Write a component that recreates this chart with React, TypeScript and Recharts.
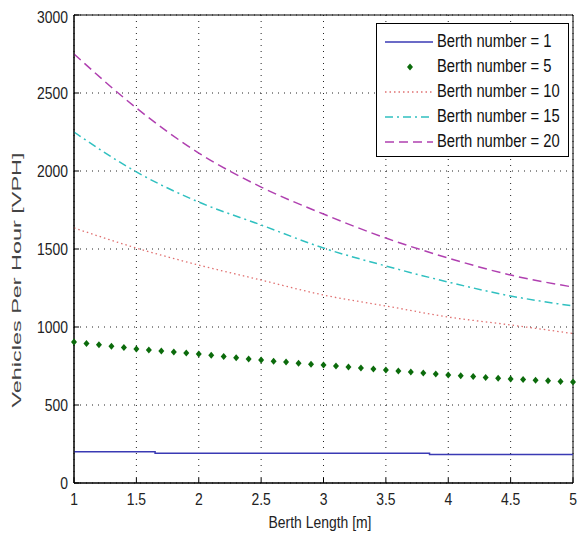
import React from "react";
import {
  ComposedChart,
  Line,
  Scatter,
  XAxis,
  YAxis,
  CartesianGrid,
  ReferenceArea
} from "recharts";

const FONT = "'Liberation Sans', Arial, sans-serif";
const NARROW = 0.82;

const xTicks = [1, 1.5, 2, 2.5, 3, 3.5, 4, 4.5, 5];
const yTicks = [0, 500, 1000, 1500, 2000, 2500, 3000];

// berth lengths for the smooth curves
const berthLength = [1, 1.5, 2, 2.5, 3, 3.5, 4, 4.5, 5];
const berth10 = [1635, 1506, 1397, 1301, 1205, 1135, 1064, 1013, 958];
const berth15 = [2250, 1994, 1801, 1654, 1506, 1391, 1288, 1199, 1135];
const berth20 = [2750, 2404, 2115, 1897, 1724, 1570, 1442, 1333, 1256];

// berth number = 1 is a step line
const stepLength = [1, 1.65, 3.85, 5];
const berth1 = [200, 190, 182, 182];

// berth number = 5 plotted as markers
const fineLength = [
  1, 1.1, 1.2, 1.3, 1.4, 1.5, 1.6, 1.7, 1.8, 1.9, 2, 2.1, 2.2, 2.3, 2.4, 2.5, 2.6, 2.7, 2.8, 2.9, 3,
  3.1, 3.2, 3.3, 3.4, 3.5, 3.6, 3.7, 3.8, 3.9, 4, 4.1, 4.2, 4.3, 4.4, 4.5, 4.6, 4.7, 4.8, 4.9, 5
];
const berth5 = [
  904, 895, 886, 877, 868, 859, 852, 846, 839, 833, 827, 819, 811, 803, 795, 788, 781, 775, 768, 762, 756,
  750, 743, 737, 730, 724, 718, 711, 705, 698, 692, 687, 682, 677, 672, 667, 663, 659, 655, 651, 647
];

const toPoints = (xs: number[], ys: number[]) => xs.map((x, i) => ({ x, y: ys[i] }));

const COLORS = {
  b1: "#3a3ab4",
  b5: "#0b6b0b",
  b10: "#e07070",
  b15: "#30c0c0",
  b20: "#b040b0"
};

function Diamond(props: any) {
  const { cx, cy } = props;
  if (cx == null || cy == null) return null;
  return (
    <polygon
      points={`${cx},${cy - 3.5} ${cx + 3},${cy} ${cx},${cy + 3.5} ${cx - 3},${cy}`}
      fill={COLORS.b5}
    />
  );
}

const legendItems = [
  { label: "Berth number = 1", color: COLORS.b1, dash: "", marker: false },
  { label: "Berth number = 5", color: COLORS.b5, dash: "", marker: true },
  { label: "Berth number = 10", color: COLORS.b10, dash: "1.5 3", marker: false },
  { label: "Berth number = 15", color: COLORS.b15, dash: "8 4 2 4", marker: false },
  { label: "Berth number = 20", color: COLORS.b20, dash: "9 5", marker: false }
];

function LegendBox() {
  return (
    <div
      style={{
        position: "absolute",
        left: 368,
        top: 15,
        width: 193,
        height: 134,
        border: "1px solid #000",
        background: "#fff",
        fontFamily: FONT,
        fontSize: 18,
        color: "#111",
        paddingTop: 5,
        boxSizing: "border-box"
      }}
    >
      {legendItems.map((item) => (
        <div key={item.label} style={{ display: "flex", alignItems: "center", height: 25 }}>
          <svg width={60} height={20} style={{ flex: "none" }}>
            {item.marker ? (
              <Diamond cx={33} cy={10} />
            ) : (
              <line
                x1={8}
                x2={56}
                y1={10}
                y2={10}
                stroke={item.color}
                strokeWidth={1.5}
                strokeDasharray={item.dash}
              />
            )}
          </svg>
          <span
            style={{
              display: "inline-block",
              whiteSpace: "nowrap",
              transform: `scaleX(${NARROW})`,
              transformOrigin: "left center"
            }}
          >
            {item.label}
          </span>
        </div>
      ))}
    </div>
  );
}

function XTick(props: any) {
  const { x, y, payload } = props;
  return (
    <text
      transform={`translate(${x},${y}) scale(${NARROW},1)`}
      textAnchor="middle"
      dy="0.71em"
      fontFamily={FONT}
      fontSize={17}
      fill="#222"
    >
      {payload.value}
    </text>
  );
}

function YTick(props: any) {
  const { x, y, payload } = props;
  return (
    <text
      transform={`translate(${x},${y}) scale(${NARROW},1)`}
      textAnchor="end"
      dy="0.355em"
      fontFamily={FONT}
      fontSize={17}
      fill="#222"
    >
      {payload.value}
    </text>
  );
}

function XLabel() {
  return (
    <text
      transform={`translate(312,514) scale(${NARROW},1)`}
      textAnchor="middle"
      dominantBaseline="central"
      fontFamily={FONT}
      fontSize={17}
      fill="#222"
    >
      Berth Length [m]
    </text>
  );
}

function YLabel() {
  return (
    <text
      x={9}
      y={272}
      transform="rotate(-90, 9, 272)"
      textAnchor="middle"
      dominantBaseline="central"
      fontFamily={FONT}
      fontSize={12}
      fill="#444"
      textLength={255}
      lengthAdjust="spacingAndGlyphs"
    >
      Vehicles Per Hour [VPH]
    </text>
  );
}

export default function App() {
  return (
    <div style={{ position: "relative", width: 578, height: 528, background: "#fff" }}>
      <ComposedChart width={578} height={528} margin={{ top: 7, right: 13, left: 0, bottom: 0 }}>
        <CartesianGrid stroke="#222" strokeDasharray="1 5" />
        <XAxis
          dataKey="x"
          type="number"
          domain={[1, 5]}
          ticks={xTicks}
          height={53}
          tickSize={-5}
          tickMargin={15}
          tickLine={{ stroke: "#000" }}
          axisLine={{ stroke: "#000" }}
          tick={<XTick />}
          allowDuplicatedCategory={false}
          label={<XLabel />}
        />
        <XAxis
          xAxisId="top"
          orientation="top"
          dataKey="x"
          type="number"
          domain={[1, 5]}
          ticks={xTicks}
          height={0}
          tickSize={-5}
          tickLine={{ stroke: "#000" }}
          axisLine={false}
          tick={false}
        />
        <YAxis
          dataKey="y"
          type="number"
          domain={[0, 3000]}
          ticks={yTicks}
          width={66}
          tickSize={-5}
          tickMargin={11}
          tickLine={{ stroke: "#000" }}
          axisLine={{ stroke: "#000" }}
          tick={<YTick />}
          label={<YLabel />}
        />
        <YAxis
          yAxisId="right"
          orientation="right"
          dataKey="y"
          type="number"
          domain={[0, 3000]}
          ticks={yTicks}
          width={0}
          tickSize={-5}
          tickLine={{ stroke: "#000" }}
          axisLine={false}
          tick={false}
        />
        <ReferenceArea x1={1} x2={5} y1={0} y2={3000} fill="none" stroke="#000" strokeWidth={1} />
        <Line
          data={toPoints(stepLength, berth1)}
          dataKey="y"
          type="stepAfter"
          stroke={COLORS.b1}
          strokeWidth={1.5}
          dot={false}
          isAnimationActive={false}
        />
        <Line
          data={toPoints(berthLength, berth10)}
          dataKey="y"
          type="monotone"
          stroke={COLORS.b10}
          strokeWidth={1.3}
          strokeDasharray="1.5 3"
          dot={false}
          isAnimationActive={false}
        />
        <Line
          data={toPoints(berthLength, berth15)}
          dataKey="y"
          type="monotone"
          stroke={COLORS.b15}
          strokeWidth={1.5}
          strokeDasharray="8 4 2 4"
          dot={false}
          isAnimationActive={false}
        />
        <Line
          data={toPoints(berthLength, berth20)}
          dataKey="y"
          type="monotone"
          stroke={COLORS.b20}
          strokeWidth={1.5}
          strokeDasharray="9 5"
          dot={false}
          isAnimationActive={false}
        />
        <Scatter
          data={toPoints(fineLength, berth5)}
          dataKey="y"
          shape={<Diamond />}
          isAnimationActive={false}
        />
      </ComposedChart>
      <LegendBox />
    </div>
  );
}
